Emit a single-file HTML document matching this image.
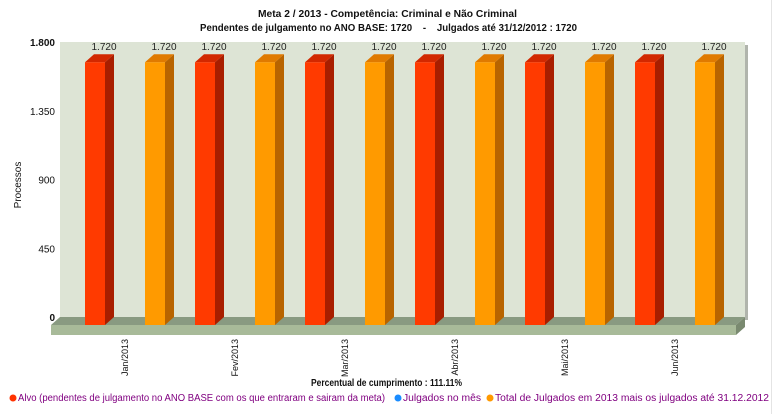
<!DOCTYPE html>
<html><head><meta charset="utf-8"><style>
body{margin:0;background:#fff;width:777px;height:414px;overflow:hidden;font-family:"Liberation Sans",sans-serif}
</style></head><body>
<svg width="777" height="414" xmlns="http://www.w3.org/2000/svg" font-family="Liberation Sans, sans-serif">
<line x1="771.5" y1="0" x2="771.5" y2="414" stroke="#e4e4e4"/>
<text x="258" y="17" font-size="10" font-weight="bold" fill="#111" textLength="259" lengthAdjust="spacingAndGlyphs">Meta  2 / 2013 - Competência: Criminal e Não Criminal</text>
<text x="200" y="31" font-size="10" font-weight="bold" fill="#111" xml:space="preserve" textLength="377" lengthAdjust="spacingAndGlyphs">Pendentes de julgamento no ANO BASE: 1720    -    Julgados até 31/12/2012 : 1720</text>
<g id="plot"></g>
<text x="21" y="185" font-size="10" text-anchor="middle" fill="#111" transform="rotate(-90 21 185)">Processos</text>
<text x="311" y="386" font-size="10" font-weight="bold" fill="#111" textLength="151" lengthAdjust="spacingAndGlyphs">Percentual de cumprimento : 111.11%</text>
<g font-size="10" fill="#800080">
<g><circle cx="13" cy="398" r="3.5" fill="#ff3300"/><text x="18" y="401" textLength="367" lengthAdjust="spacingAndGlyphs">Alvo (pendentes de julgamento no ANO BASE com os que entraram e sairam da meta)</text></g>
<g><circle cx="398" cy="398" r="3.5" fill="#1a8cff"/><text x="403" y="401" textLength="78" lengthAdjust="spacingAndGlyphs">Julgados no mês</text></g>
<g><circle cx="490" cy="398" r="3.5" fill="#ff9900"/><text x="495" y="401" textLength="274" lengthAdjust="spacingAndGlyphs">Total de Julgados em 2013 mais os julgados até 31.12.2012</text></g>
</g>
</svg>
<script>
const categories=["Jan/2013","Fev/2013","Mar/2013","Abr/2013","Mai/2013","Jun/2013"];
const alvo=[1720,1720,1720,1720,1720,1720];
const totalJulgados=[1720,1720,1720,1720,1720,1720];
const yTicks=[0,450,900,1350,1800];
const yTickLabels=["0","450","900","1.350","1.800"];
const NS="http://www.w3.org/2000/svg";
const g=document.getElementById('plot');
const wallL=60,wallR=745,wallT=42,wallB=317,yMax=1800,dx=9,dy=8,groupW=110;
function y(v){return wallB-(v/yMax)*(wallB-wallT);}
function groupX(i){return 50+groupW*i;}
function mk(tag,attrs,parent){const e=document.createElementNS(NS,tag);for(const k in attrs)e.setAttribute(k,attrs[k]);(parent||g).appendChild(e);return e;}
function fmt(v){return v>=1000?Math.floor(v/1000)+"."+String(v%1000).padStart(3,"0"):String(v);}
let e;
e=mk('rect',{x:wallR,y:wallT+3,width:3,height:wallB-wallT,fill:'#b0b4ac'});

e=mk('rect',{x:wallL,y:wallT,width:wallR-wallL,height:wallB-wallT,fill:'#dde4d5'});

e=mk('polygon',{points:`${wallL},${wallB} ${wallR},${wallB} ${wallR-dx},${wallB+dy} ${wallL-dx},${wallB+dy}`,fill:'#899a81'});

e=mk('rect',{x:wallL-dx,y:wallB+dy,width:wallR-wallL,height:10,fill:'#a8ba99'});

e=mk('polygon',{points:`${wallR-dx},${wallB+dy} ${wallR},${wallB} ${wallR},${wallB+10} ${wallR-dx},${wallB+dy+10}`,fill:'#7a8a70'});

yTicks.forEach((t,i)=>{const tx=mk('text',{x:55,y:y(t)+4,'font-size':10,'text-anchor':'end',fill:'#111','font-weight':t===0||t===1800?'bold':'normal'});tx.textContent=yTickLabels[i];
});
function bar(x0,v,front,top,side,name){
  const bw=20,yb=wallB+dy,yt=y(v)+dy;
  const b=mk('g',{});
  mk('polygon',{points:`${x0+bw},${yt} ${x0+bw+dx},${yt-dy} ${x0+bw+dx},${yb-dy} ${x0+bw},${yb}`,fill:side},b);
  mk('polygon',{points:`${x0},${yt} ${x0+dx},${yt-dy} ${x0+bw+dx},${yt-dy} ${x0+bw},${yt}`,fill:top},b);
  mk('rect',{x:x0,y:yt,width:bw,height:yb-yt,fill:front},b);
  const t=mk('text',{x:x0+bw/2+dx,y:yt-dy-4,'font-size':10,'text-anchor':'middle',fill:'#222'});t.textContent=fmt(v);
  
}
categories.forEach((c,i)=>{
  const gx=groupX(i);
  bar(gx+35,alvo[i],'#ff3a00','#d22800','#a81e00','bar-alvo-'+(i+1));
  bar(gx+95,totalJulgados[i],'#ff9a00','#e07a00','#b86400','bar-total-'+(i+1));
  const lx=gx+78,ly=339;
  const t=mk('text',{x:lx,y:ly,'font-size':9,'text-anchor':'end',fill:'#111',transform:`rotate(-90 ${lx} ${ly})`});t.textContent=c;
  
});
</script>
</body></html>
